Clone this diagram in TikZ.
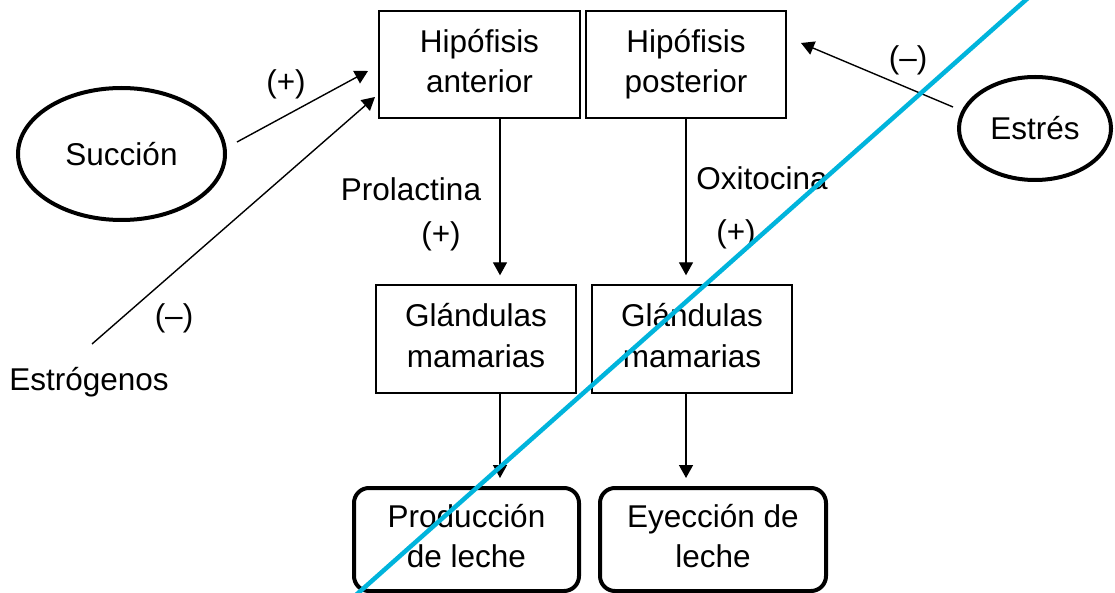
\documentclass[tikz,border=0pt]{standalone}
\usepackage{fontspec}
\setmainfont{Liberation Sans}
\usetikzlibrary{shapes.geometric,arrows.meta}
\definecolor{cyanline}{RGB}{0,180,220}
\newcommand{\topstrut}{\rule{0pt}{28pt}}
\newcommand{\botstrut}{\rule[-12pt]{0pt}{12pt}}
\newcommand{\twolines}[2]{\topstrut #1\\#2\botstrut}
\begin{document}
\begin{tikzpicture}[x=1pt,y=-1pt,
  txt/.style={font=\fontsize{31.5}{40.5}\selectfont, align=center, inner sep=0pt},
  plainbox/.style={txt, draw, line width=1.4pt, minimum width=#1, minimum height=107pt},
  roundbox/.style={txt, draw, line width=4pt, rounded corners=15pt, minimum width=#1, minimum height=103pt},
  oval/.style={txt, ellipse, draw, line width=4pt},
  lbl/.style={font=\fontsize{31.5}{40.5}\selectfont, inner sep=0pt},
  arr/.style={line width=1.4pt, -{Triangle[length=13pt,width=14pt]}},
  plain/.style={line width=1.4pt}]
\useasboundingbox (0,0) rectangle (1115,593);
\fill[white] (0,0) rectangle (1115,593);

% boxes
\node[plainbox=201pt] (antA) at (479.5,64.5) {\twolines{Hipófisis}{anterior}};
\node[plainbox=200pt] (post) at (686,64.5) {\twolines{Hipófisis}{posterior}};
\node[plainbox=200pt, minimum height=108pt] (glL) at (476,339) {\twolines{Glándulas}{mamarias}};
\node[plainbox=200pt, minimum height=108pt] (glR) at (692,339) {\twolines{Glándulas}{mamarias}};
\node[roundbox=225pt] (prod) at (466.5,539.5) {\twolines{Producción}{de leche}};
\node[roundbox=226pt] (eyec) at (713,539.5) {\twolines{Eyección de}{leche}};

% ellipses
\node[oval, minimum width=207pt, minimum height=132pt] (succ) at (121.5,154) {Succión};
\node[oval, minimum width=152pt, minimum height=103pt] (estres) at (1035,128.5) {Estrés};
\node[lbl] (estro) at (89,382) {Estrógenos};

% connector end points
\coordinate (s1) at (237,142);
\coordinate (s2) at (368,71);
\coordinate (e1) at (92,344);
\coordinate (e2) at (375,97);
\coordinate (t1) at (953,107);
\coordinate (t2) at (801,43);
\coordinate (xa) at (500,0);

% connectors
\draw[arr] (s1) -- (s2);
\draw[arr] (e1) -- (e2);
\draw[arr] (t1) -- (t2);
\draw[arr, shorten >=9pt] (xa |- antA.south) -- (xa |- glL.north);
\draw[arr, shorten >=9pt] (post.south) -- (post.south |- glR.north);
\draw[arr, shorten >=8pt] (xa |- glL.south) -- (xa |- prod.north);
\draw[arr, shorten >=8pt] (post.south |- glR.south) -- (post.south |- eyec.north);

% labels
\node[lbl] (l1) at (286,84) {(+)};
\node[lbl] (l2) at (174,318) {(–)};
\node[lbl] (l3) at (411,189) {Prolactina};
\node[lbl] (l4) at (441,236) {(+)};
\node[lbl] (l5) at (762,178) {Oxitocina};
\node[lbl] (l6) at (736,234) {(+)};
\node[lbl] (l7) at (908,60) {(–)};

% overlay line
\coordinate (b1) at (1028,-2);
\coordinate (b2) at (356,595);
\draw[cyanline, line width=4.5pt] (b1) -- (b2);
\end{tikzpicture}
\end{document}
